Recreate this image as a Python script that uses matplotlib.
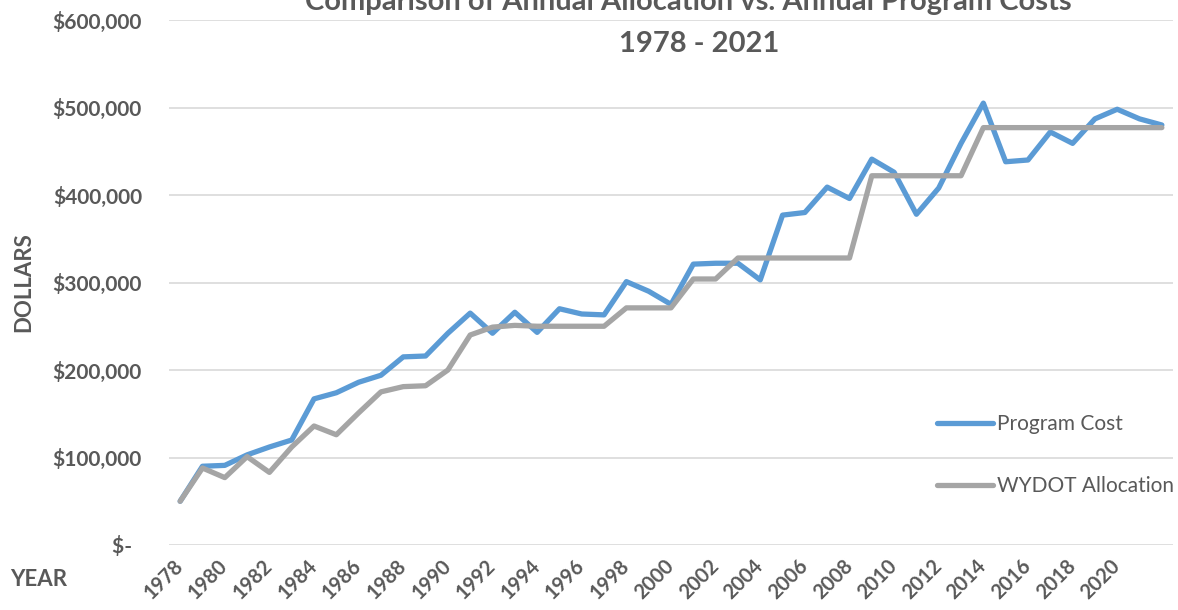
import matplotlib
matplotlib.use("Agg")
import matplotlib.pyplot as plt
from matplotlib.ticker import FuncFormatter

# data (in dollars)
years = list(range(1978, 2023))
program_cost = [50, 90, 91, 103, 112, 120, 167, 174, 186, 194, 215, 216, 242,
                265, 242, 266, 243, 270, 264, 263, 301, 290, 275, 321, 322,
                322, 303, 377, 380, 409, 396, 441, 426, 378, 408, 459, 505,
                438, 440, 472, 459, 487, 498, 487, 480]
wydot_allocation = [50, 88, 77, 101, 83, 112, 136, 126, 151, 175, 181, 182,
                    200, 240, 249, 251, 250, 250, 250, 250, 271, 271, 271,
                    304, 304, 328, 328, 328, 328, 328, 328, 422, 422, 422,
                    422, 422, 477, 477, 477, 477, 477, 477, 477, 477, 477]
program_cost = [v * 1000 for v in program_cost]
wydot_allocation = [v * 1000 for v in wydot_allocation]
tick_years = list(range(1978, 2021, 2))

TXT = "#595959"
BLUE = "#5B9BD5"
GREY = "#A5A5A5"
plt.rcParams["font.family"] = ["Lato", "DejaVu Sans"]

W, H = 1178, 610
fig = plt.figure(figsize=(W / 100, H / 100), dpi=100)
ax = fig.add_axes([169 / W, 1 - 545 / H, 1004 / W, 525 / H])

x = list(range(len(years)))
ax.plot(x, program_cost, color=BLUE, lw=3.8, label="Program Cost",
        solid_joinstyle="round", solid_capstyle="round")
ax.plot(x, wydot_allocation, color=GREY, lw=3.8, label="WYDOT Allocation",
        solid_joinstyle="round", solid_capstyle="round")

ax.set_xlim(-0.5, len(years) - 0.5)
ax.set_ylim(0, 600000)
ax.set_yticks(range(0, 600001, 100000))
ax.yaxis.set_major_formatter(FuncFormatter(
    lambda v, p: "$-  " if v == 0 else "${:,.0f}".format(v)))
ax.set_xticks([years.index(y) for y in tick_years])
ax.set_xticklabels([str(y) for y in tick_years], rotation=45, ha="right",
                   va="center", rotation_mode="anchor")

ax.grid(axis="y", color="#D9D9D9", lw=1.2)
ax.set_axisbelow(True)
for s in ax.spines.values():
    s.set_visible(False)
ax.tick_params(axis="both", length=0, colors=TXT)
ax.tick_params(axis="y", pad=19.5, labelsize=15)
ax.tick_params(axis="x", pad=13, labelsize=14.5)
for t in ax.get_xticklabels() + ax.get_yticklabels():
    t.set_fontweight("bold")

fig.text(688 / W, 1 - 10 / H, "Comparison of Annual Allocation vs. Annual Program Costs",
         ha="center", va="baseline", fontsize=21, fontweight="bold", color=TXT)
fig.text(699 / W, 1 - 52 / H, "1978 - 2021", ha="center", va="baseline",
         fontsize=21, fontweight="bold", color=TXT)
fig.text(24 / W, 1 - 282 / H, "DOLLARS", rotation=90, ha="center", va="center",
         fontsize=16, fontweight="bold", color=TXT)
fig.text(10 / W, 1 - 580 / H, "YEAR", ha="left", va="center",
         fontsize=16, fontweight="bold", color=TXT)

leg = ax.legend(loc="center left", bbox_to_anchor=(937 / W, 1 - 455 / H),
                bbox_transform=fig.transFigure, frameon=False, fontsize=15,
                handlelength=2.7, handletextpad=0.2, labelspacing=2.0,
                borderpad=0, borderaxespad=0)
for t in leg.get_texts():
    t.set_color(TXT)

fig.savefig("out.png", dpi=100)
